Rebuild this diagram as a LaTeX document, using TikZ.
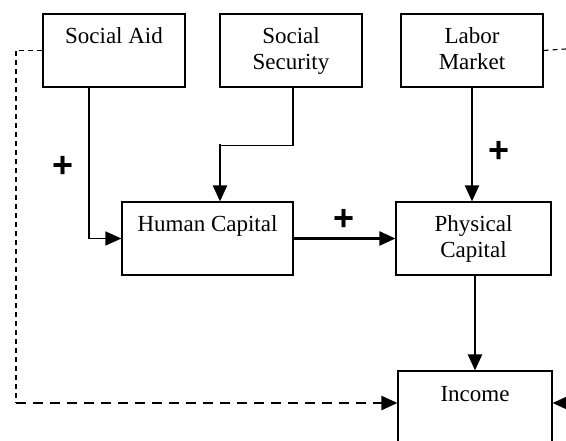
\documentclass[tikz,border=0pt]{standalone}
\usepackage{fontspec}
\setmainfont{Liberation Serif}
\newfontfamily\plusfont{Liberation Sans}
\usetikzlibrary{arrows.meta}
\begin{document}
\begin{tikzpicture}[x=1pt,y=-1pt,
  box/.style={draw, line width=1.1pt, rectangle, minimum width=#1, minimum height=73pt, inner sep=0pt},
  lbl/.style={anchor=base, align=center, inner sep=0pt, font=\fontsize{23}{26}\selectfont},
  pluslbl/.style={inner sep=0pt, font=\plusfont\bfseries\fontsize{36}{36}\selectfont},
  thinline/.style={line width=1.3pt},
  thickline/.style={line width=2.3pt},
  tip/.style={-{Triangle[length=16pt,width=14pt]}},
  dashthin/.style={line width=1.1pt, dash pattern=on 5pt off 4pt},
  dashthick/.style={line width=2.3pt, dash pattern=on 10pt off 7pt}
]
\clip (0,0) rectangle (566,441);
\fill[white] (0,0) rectangle (566,441);
% boxes
\node[box=142pt] (sa) at (114,50.5) {};
\node[box=142pt] (ss) at (291,50.5) {};
\node[box=142pt] (lm) at (472,50.5) {};
\node[box=171pt] (hc) at (207.5,238.5) {};
\node[box=155pt] (pc) at (473.5,238.5) {};
\node[box=154pt] (inc) at (475,407.5) {};
% texts (base anchor = baseline of last line)
\node[lbl] (tsa) at (114,44) {Social Aid};
\node[lbl] (tss) at (291,70) {Social\\Security};
\node[lbl] (tlm) at (472,70) {Labor\\Market};
\node[lbl] (thc) at (207.5,232) {Human Capital};
\node[lbl] (tpc) at (473.5,258) {Physical\\Capital};
\node[lbl] (tinc) at (475,402) {Income};
% plus signs
\node[pluslbl] (p1) at (63,167) {+};
\node[pluslbl] (p2) at (344,220) {+};
\node[pluslbl] (p3) at (499,152) {+};
% solid connectors
\draw[thinline, tip] ([xshift=-25pt]sa.south) |- (hc.west);
\coordinate (ssk) at ([xshift=12.5pt]hc.north);
\draw[thinline] ([xshift=2pt]ss.south) -- ++(0,58) -| ([yshift=-2pt]ssk |- 0,145);
\draw[thickline, tip] (ssk |- 0,144.5) -- (ssk);
\draw[thickline, tip] (hc.east) -- (pc.west);
\draw[thickline, tip] (lm.south) -- (lm.south |- pc.north);
\draw[thickline, tip] (pc.south -| inc.north) -- (inc.north);
% dashed connectors
\coordinate (c1) at (16,403);
\coordinate (r1) at (580,403);
\coordinate (r2) at (580,48);
\draw[dashthin] (sa.west) -| (c1);
\draw[dashthick, tip] (c1) -- (c1 -| inc.west);
\draw[dashthin] (lm.east) -- (r2);
\draw[dashthick, tip] (r1) -- (r1 -| inc.east);
\end{tikzpicture}
\end{document}
